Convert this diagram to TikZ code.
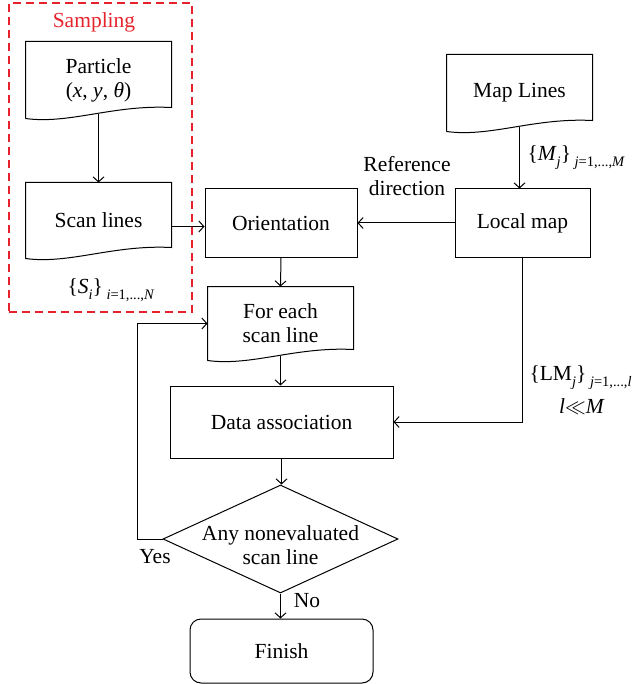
\documentclass[tikz,border=0pt]{standalone}
\usepackage{fontspec}
\setmainfont{Liberation Serif}
\usetikzlibrary{arrows.meta,shapes.geometric,calc}
\definecolor{samplered}{RGB}{230,35,45}
\newcommand{\lowsub}[1]{\raisebox{-0.28em}{\fontsize{14.5}{15}\selectfont #1}}
\begin{document}
\begin{tikzpicture}[x=1pt,y=-1pt,
  font=\fontsize{21.5}{24}\selectfont,
  line width=1pt,
  arr/.style={-{Straight Barb[length=5pt,width=11pt]}},
  box/.style={draw, rectangle, inner sep=0pt, align=center, line width=1pt},
  docbox/.style={rectangle, inner sep=0pt, align=center},
  lbl/.style={inner sep=0pt, align=center},
  wave/.style={line width=1pt}]
\useasboundingbox (0,0) rectangle (637,684);

% Sampling frame
\node[draw=samplered, dashed, dash pattern=on 8pt off 5pt, line width=1.1pt,
      minimum width=183pt, minimum height=309pt, inner sep=0pt] (sampling) at (100.5,157.5) {};
\node[lbl, text=samplered] (samplinglbl) at (94,22) {Sampling};

% Document-shaped nodes
\node[docbox, minimum width=145pt, minimum height=76pt] (particle) at (98.5,80)
  {Particle\\(\textit{x}, \textit{y}, \textit{θ})};
\node[docbox, minimum width=145pt, minimum height=75pt] (scanlines) at (98.5,220.5) {Scan lines};
\node[docbox, minimum width=145pt, minimum height=76pt] (maplines) at (519.5,93) {Map Lines};
\node[docbox, minimum width=145pt, minimum height=73pt] (foreach) at (280.5,323.5)
  {For each\\scan line};

\foreach \n in {particle,scanlines,maplines,foreach}{
  \draw[wave] (\n.south west) -- (\n.north west) -- (\n.north east) --
    ($(\n.south east)+(0,-11)$)
    .. controls ($(\n.south west)!0.6!(\n.south east)+(0,-14)$)
       and ($(\n.south west)!0.3!(\n.south east)+(0,6)$) .. (\n.south west);
}

% Boxes
\node[box, minimum width=152pt, minimum height=68pt] (orientation) at (281,223) {Orientation};
\node[box, minimum width=135pt, minimum height=68pt] (localmap) at (522.5,223) {Local map};
\node[box, minimum width=223pt, minimum height=72pt] (data) at (281.5,422) {Data association};
\node[draw, diamond, minimum width=235pt, minimum height=108pt, inner sep=0pt] (dec) at (280.5,539) {};
\node[lbl, yshift=-6pt] (dectext) at (dec.center) {Any nonevaluated\\scan line};
\node[box, rounded corners=11pt, minimum width=183pt, minimum height=64pt] (finish) at (281.5,651) {Finish};

% Labels
\node[lbl] (refdir) at (407,176.5) {Reference\\direction};
\node[lbl, anchor=west] (mlbl) at (527,158) {\{\textit{M}\lowsub{\textit{j}}\}\,\lowsub{\textit{j}=1,...,\textit{M}}};
\node[lbl] (slbl) at (111,290) {\{\textit{S}\lowsub{\textit{i}}\}\,\lowsub{\textit{i}=1,...,\textit{N}}};
\node[lbl, anchor=west] (lmlbl) at (529,378) {\{LM\lowsub{\textit{j}}\}\,\lowsub{\textit{j}=1,...,\textit{l}}};
\node[lbl] (llbl) at (582,406) {\textit{l}$\ll$\textit{M}};
\node[lbl] (yes) at (155,557) {Yes};
\node[lbl] (no) at (307,601) {No};

% Connectors
\draw[arr] ([yshift=4.5pt]particle.south) -- (particle.south |- scanlines.north);
\draw[arr] ([yshift=-6pt]scanlines.east) -- ([yshift=-6pt]scanlines.east -| orientation.west);
\draw[arr] (localmap.west) -- (orientation.east);
\draw[arr] ([yshift=4.5pt]maplines.south) -- (maplines.south |- localmap.north);
\draw[arr] (orientation.south) -- (foreach.north);
\draw[arr] ([yshift=4.5pt]foreach.south) -- (foreach.south |- data.north);
\draw[arr] (localmap.south) |- (data.east);
\draw[arr] (data.south) -- (data.south |- dec.north);
\coordinate (loopx) at (137,539);
\draw[arr] (dec.west) -- (loopx) |- (foreach.west);
\draw[arr] (dec.south) -- (dec.south |- finish.north);
\end{tikzpicture}
\end{document}
